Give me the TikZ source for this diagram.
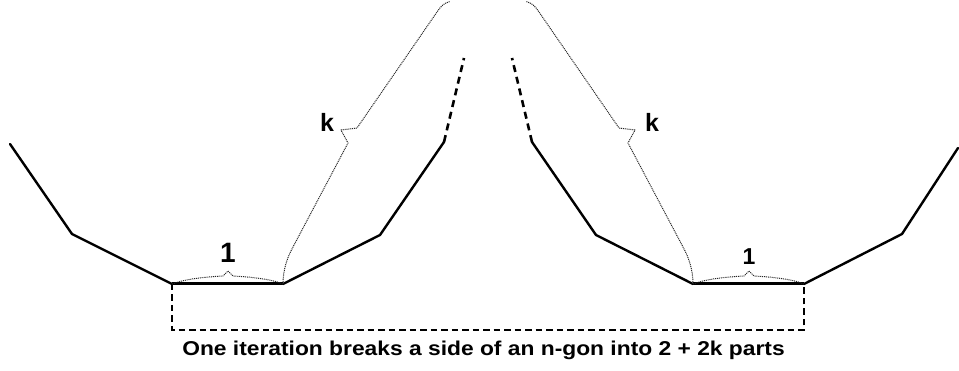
\documentclass[tikz,border=0pt]{standalone}
\usepackage{fontspec}
\setmainfont{Liberation Sans}
\begin{document}
\begin{tikzpicture}[x=1pt,y=-1pt,
  edge/.style={line width=2.4pt, line join=round, line cap=round},
  baseedge/.style={line width=3pt},
  dsh/.style={line width=2.4pt, dash pattern=on 6.5pt off 4pt},
  topdsh/.style={line width=2.6pt, dash pattern=on 7pt off 5pt},
  brc/.style={line width=1pt, black!85, dash pattern=on 1pt off 0.9pt, line join=round},
  lbl/.style={inner sep=0pt, font=\bfseries}]
\useasboundingbox (0,0) rectangle (959,371);
% left polygon
\coordinate (L0) at (10,144);
\coordinate (L1) at (72,234);
\coordinate (L2) at (172,284);
\coordinate (L3) at (283,284);
\coordinate (L4) at (380,235);
\coordinate (L5) at (444,142);
\coordinate (L6) at (464,58);
% right polygon
\coordinate (R0) at (532,142);
\coordinate (R1) at (596,235);
\coordinate (R2) at (693,284);
\coordinate (R3) at (804,284);
\coordinate (R4) at (902,234);
\coordinate (R5) at (958,148);
\coordinate (R6) at (512,58);
% bracket bottom corners
\coordinate (B1) at (172,330);
\coordinate (B2) at (804,330);

\draw[edge] (L0) -- (L1) -- (L2);
\draw[baseedge] (L2) -- (L3);
\draw[edge] (L3) -- (L4) -- (L5);
\draw[topdsh] (L5) -- (L6);

\draw[edge] (R0) -- (R1) -- (R2);
\draw[baseedge] (R2) -- (R3);
\draw[edge] (R3) -- (R4) -- (R5);
\draw[topdsh] (R0) -- (R6);

\draw[dsh] (L2) -- (B1) -- (B2) -- (R3);

% small braces
\draw[brc] (L2) .. controls (185,279) and (205,277) .. (223,276) -- (228,271) -- (233,276) .. controls (251,277) and (271,279) .. (L3);
\draw[brc] (R2) .. controls (706,279) and (726,277) .. (744,276) -- (749,271) -- (754,276) .. controls (772,277) and (792,279) .. (R3);

% large k braces
\draw[brc] (L3) .. controls (283,270) and (287,258) .. (293,247) -- (348,143) -- (341,130) -- (357,128) -- (437,12) .. controls (441,6) and (444,3) .. (450,1.5);
\draw[brc] (R2) .. controls (693,270) and (689,258) .. (683,247) -- (628,143) -- (635,130) -- (619,128) -- (539,12) .. controls (535,6) and (532,3) .. (526,1.5);

% labels
\node[lbl, font=\bfseries\fontsize{28}{28}\selectfont] (one1) at (228,253) {1};
\node[lbl, font=\bfseries\fontsize{23}{23}\selectfont] (one2) at (749,257) {1};
\node[lbl, font=\bfseries\fontsize{25}{25}\selectfont] (k1) at (327,122) {k};
\node[lbl, font=\bfseries\fontsize{25}{25}\selectfont] (k2) at (652,122) {k};
\node[lbl, font=\bfseries\fontsize{20}{20}\selectfont, anchor=base] (cap) at (483.5,356) {\scalebox{1.14}[1]{One iteration breaks a side of an n-gon into 2 + 2k parts}};
\end{tikzpicture}
\end{document}
